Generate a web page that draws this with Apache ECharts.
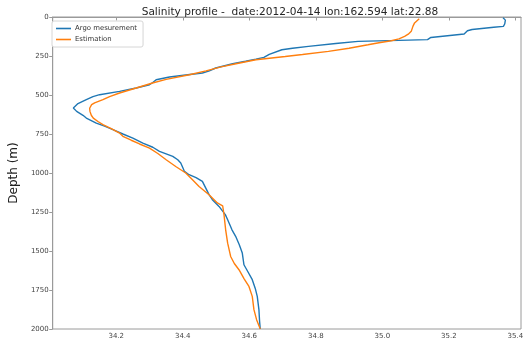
<!DOCTYPE html>
<html>
<head>
<meta charset="utf-8">
<script src="https://cdn.jsdelivr.net/npm/echarts@6/dist/echarts.min.js"></script>
<style>
  html, body { margin: 0; padding: 0; background: #fff; }
  #chart { width: 529px; height: 344px; }
</style>
</head>
<body>
<div id="chart"></div>
<script>
// Argo float salinity profile (depth in metres, salinity in PSU)
const argoDepth = [5, 20, 32, 45, 60, 66, 80, 88, 100, 109, 131, 145, 150, 156, 170, 188, 200, 210, 240, 259,
  270, 284, 300, 327, 345, 359, 370, 385, 402, 420, 434, 455, 477, 498, 510, 530, 555, 583, 605, 630,
  648, 680, 700, 722, 750, 776, 808, 835, 861, 893, 915, 936, 965, 990, 1011, 1030, 1054, 1100, 1139, 1171,
  1214, 1267, 1300, 1364, 1406, 1460, 1513, 1588, 1630, 1684, 1740, 1791, 1876, 1950, 2000];
const argoSalinity = [35.363, 35.370, 35.373, 35.368, 35.364, 35.335, 35.270, 35.256, 35.250, 35.246, 35.146, 35.136, 35.050, 34.927, 34.860, 34.778, 34.730, 34.698, 34.660, 34.644,
  34.620, 34.589, 34.550, 34.499, 34.480, 34.459, 34.415, 34.360, 34.320, 34.310, 34.300, 34.260, 34.210, 34.150, 34.130, 34.110, 34.085, 34.071, 34.081, 34.100,
  34.110, 34.140, 34.165, 34.190, 34.220, 34.250, 34.280, 34.310, 34.330, 34.370, 34.385, 34.394, 34.400, 34.405, 34.419, 34.440, 34.459, 34.470, 34.479, 34.489,
  34.509, 34.528, 34.535, 34.548, 34.559, 34.570, 34.579, 34.584, 34.595, 34.609, 34.618, 34.624, 34.629, 34.631, 34.633];

// Estimated salinity profile
const estDepth = [11, 17, 38, 60, 92, 110, 124, 140, 152, 165, 178, 200, 220, 240, 253, 274, 300, 320, 345, 370,
  400, 423, 455, 487, 510, 530, 550, 562, 585, 605, 630, 648, 670, 690, 715, 744, 765, 790, 814, 840,
  875, 915, 960, 1000, 1045, 1086, 1139, 1192, 1210, 1267, 1364, 1450, 1535, 1580, 1620, 1680, 1727, 1791, 1876, 1940, 2000];
const estSalinity = [35.111, 35.105, 35.097, 35.092, 35.087, 35.078, 35.067, 35.050, 35.027, 34.990, 34.957, 34.900, 34.838, 34.760, 34.708, 34.620, 34.560, 34.515, 34.470, 34.420,
  34.350, 34.309, 34.260, 34.210, 34.180, 34.160, 34.135, 34.126, 34.120, 34.121, 34.125, 34.131, 34.145, 34.160, 34.185, 34.210, 34.220, 34.245, 34.270, 34.300,
  34.325, 34.350, 34.380, 34.409, 34.430, 34.449, 34.479, 34.504, 34.520, 34.524, 34.529, 34.535, 34.544, 34.555, 34.569, 34.585, 34.599, 34.609, 34.614, 34.622, 34.633];

const salinityTicks = [34.2, 34.4, 34.6, 34.8, 35.0, 35.2, 35.4];
const depthTicks = [0, 250, 500, 750, 1000, 1250, 1500, 1750, 2000];

const seriesNames = ['Argo mesurement', 'Estimation'];
const seriesColors = ['#1f77b4', '#ff7f0e'];

const pairs = (sal, dep) => sal.map((s, i) => [s, dep[i]]);

const FONT = 'DejaVu Sans';
const spine = '#9a9a9a';
const tickText = '#444';

const chart = echarts.init(document.getElementById('chart'), null, { renderer: 'canvas' });
chart.setOption({
  animation: false,
  backgroundColor: '#fff',
  textStyle: { fontFamily: FONT },
  title: {
    text: 'Salinity profile -  date:2012-04-14 lon:162.594 lat:22.88',
    left: 285,
    textAlign: 'center',
    top: 2,
    textStyle: { fontFamily: FONT, fontSize: 10.6, fontWeight: 'normal', color: '#262626' }
  },
  legend: {
    orient: 'vertical',
    left: 52,
    top: 21,
    data: seriesNames.map(n => ({ name: n, icon: 'rect' })),
    itemWidth: 15,
    itemHeight: 1.6,
    itemGap: 4,
    padding: [4, 6, 4, 4],
    backgroundColor: '#fff',
    borderColor: '#d6d6d6',
    borderWidth: 1,
    borderRadius: 2,
    textStyle: { fontFamily: FONT, fontSize: 6.9, color: '#333', padding: [0, 0, 0, -1] }
  },
  grid: {
    left: 49, right: 8, top: 17, bottom: 15,
    show: true, borderColor: spine, borderWidth: 1, backgroundColor: 'transparent'
  },
  xAxis: {
    type: 'value',
    min: 34.009,
    max: 35.417,
    axisLine: { show: true, lineStyle: { color: spine, width: 1 } },
    axisTick: { show: true, length: 3.5, lineStyle: { color: spine }, customValues: salinityTicks },
    axisLabel: {
      customValues: salinityTicks,
      formatter: v => Number(v).toFixed(1),
      fontFamily: FONT, fontSize: 7, color: tickText, margin: 4
    },
    splitLine: { show: false }
  },
  yAxis: {
    type: 'value',
    inverse: true,
    min: 0,
    max: 2000,
    name: 'Depth (m)',
    nameLocation: 'middle',
    nameRotate: 90,
    nameGap: 26,
    nameTextStyle: { fontFamily: FONT, fontSize: 12, color: '#222' },
    axisLine: { show: true, lineStyle: { color: spine, width: 1 } },
    axisTick: { show: true, length: 3.5, lineStyle: { color: spine }, customValues: depthTicks },
    axisLabel: {
      customValues: depthTicks,
      formatter: v => String(Math.round(v)),
      fontFamily: FONT, fontSize: 7, color: tickText, margin: 4
    },
    splitLine: { show: false }
  },
  series: [
    {
      name: seriesNames[0],
      type: 'line',
      data: pairs(argoSalinity, argoDepth),
      showSymbol: false,
      color: seriesColors[0],
      lineStyle: { width: 1.4, color: seriesColors[0] }
    },
    {
      name: seriesNames[1],
      type: 'line',
      data: pairs(estSalinity, estDepth),
      showSymbol: false,
      color: seriesColors[1],
      lineStyle: { width: 1.4, color: seriesColors[1] }
    }
  ]
});
</script>
</body>
</html>
